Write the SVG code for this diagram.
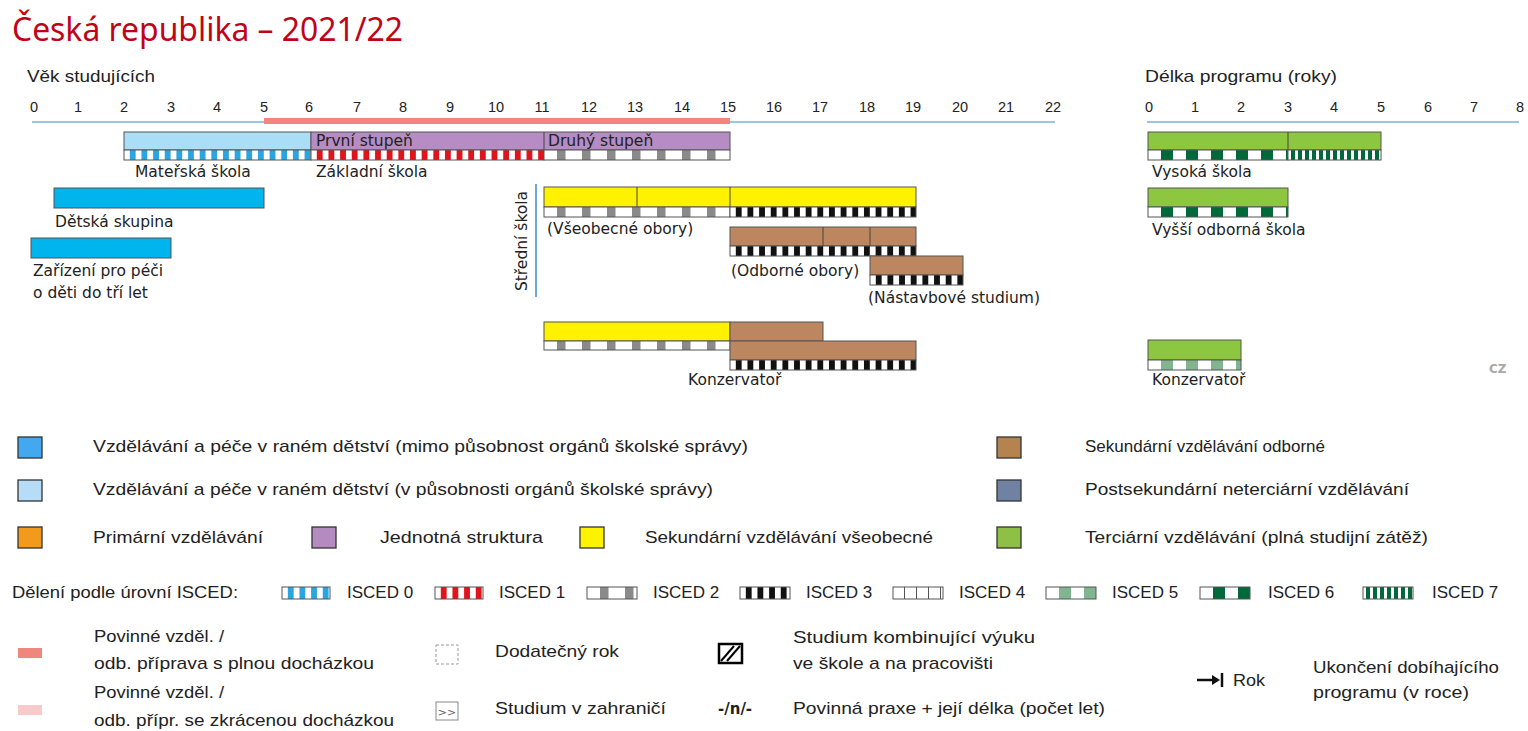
<svg xmlns="http://www.w3.org/2000/svg" width="1528" height="731" viewBox="0 0 1528 731">
<defs>
<pattern id="i0" patternUnits="userSpaceOnUse" width="11.65" height="20"><rect width="11.65" height="20" fill="#fff"/><rect x="5.8" width="5.85" height="20" fill="#2aa5df"/></pattern>
<pattern id="i1" patternUnits="userSpaceOnUse" width="11.65" height="20"><rect width="11.65" height="20" fill="#fff"/><rect x="5.8" width="5.85" height="20" fill="#e3131b"/></pattern>
<pattern id="i2" patternUnits="userSpaceOnUse" width="25" height="20"><rect width="25" height="20" fill="#fff"/><rect x="13" width="8.5" height="20" fill="#8a8a8a"/></pattern>
<pattern id="i3" patternUnits="userSpaceOnUse" width="11.65" height="20"><rect width="11.65" height="20" fill="#fff"/><rect x="5.8" width="5.85" height="20" fill="#111"/></pattern>
<pattern id="i4" patternUnits="userSpaceOnUse" width="12" height="20"><rect width="12" height="20" fill="#fff"/><rect x="11" width="1.2" height="20" fill="#555"/></pattern>
<pattern id="i5" patternUnits="userSpaceOnUse" width="25" height="20"><rect width="25" height="20" fill="#fff"/><rect x="13" width="12" height="20" fill="#80b58f"/></pattern>
<pattern id="i6" patternUnits="userSpaceOnUse" width="25" height="20"><rect width="25" height="20" fill="#fff"/><rect x="13" width="12" height="20" fill="#00693a"/></pattern>
<pattern id="i7" patternUnits="userSpaceOnUse" width="7" height="20"><rect width="7" height="20" fill="#fff"/><rect x="3" width="4" height="20" fill="#00693a"/></pattern>
</defs>
<style>
.lab{font-family:"DejaVu Sans",sans-serif;font-size:15.5px;fill:#222}
.tick{font-family:"Liberation Sans",sans-serif;font-size:14.5px;fill:#222;text-anchor:middle}
.leg{font-family:"Liberation Sans",sans-serif;font-size:17px;fill:#222}
.bx{stroke:#555;stroke-width:1}
.dv{stroke:#444;stroke-width:1}
.sq{stroke:#333;stroke-width:1.3}
.blue{fill:#abdef6}.purple{fill:#b58cc3}.yellow{fill:#fff200}.brown{fill:#bb8660}.green{fill:#8dc63f}.cyan{fill:#00b4ee}
</style>

<text x="12" y="41" font-family="Noto Sans, sans-serif" font-size="32" fill="#c00418" textLength="391" lengthAdjust="spacingAndGlyphs">Česká republika – 2021/22</text>

<g id="age-axis">
<text x="27" y="82" class="leg" font-size="18" textLength="128" lengthAdjust="spacingAndGlyphs">Věk studujících</text>
<line x1="32" y1="122" x2="1055" y2="122" stroke="#9cc3e8" stroke-width="2"/>
<rect x="264" y="118" width="466" height="6" fill="#f3847f"/>
<g class="tick">
<text x="34" y="112">0</text><text x="78" y="112">1</text><text x="124" y="112">2</text><text x="171" y="112">3</text><text x="217" y="112">4</text><text x="264" y="112">5</text><text x="309" y="112">6</text><text x="357" y="112">7</text><text x="403" y="112">8</text><text x="450" y="112">9</text><text x="496" y="112">10</text><text x="542" y="112">11</text><text x="589" y="112">12</text><text x="635" y="112">13</text><text x="682" y="112">14</text><text x="728" y="112">15</text><text x="774" y="112">16</text><text x="820" y="112">17</text><text x="867" y="112">18</text><text x="913" y="112">19</text><text x="960" y="112">20</text><text x="1006" y="112">21</text><text x="1053" y="112">22</text>
</g>
</g>

<g id="duration-axis">
<text x="1145" y="82" class="leg" font-size="18" textLength="192" lengthAdjust="spacingAndGlyphs">Délka programu (roky)</text>
<line x1="1147" y1="122" x2="1519" y2="122" stroke="#9cc3e8" stroke-width="2"/>
<g class="tick">
<text x="1149" y="112">0</text><text x="1195" y="112">1</text><text x="1241" y="112">2</text><text x="1288" y="112">3</text><text x="1334" y="112">4</text><text x="1381" y="112">5</text><text x="1428" y="112">6</text><text x="1474" y="112">7</text><text x="1520" y="112">8</text>
</g>
</g>

<g id="materska-skola">
<rect x="124" y="132" width="187" height="18" class="blue bx"/>
<g transform="translate(124,150)"><rect width="187" height="10" fill="url(#i0)" class="bx"/></g>
<text x="135" y="177" class="lab">Mateřská škola</text>
</g>

<g id="zakladni-skola">
<rect x="311" y="132" width="419" height="18" class="purple bx"/>
<line x1="544" y1="132" x2="544" y2="150" class="dv"/>
<g transform="translate(311,150)"><rect width="233" height="10" fill="url(#i1)" class="bx"/></g>
<g transform="translate(544,150)"><rect width="186" height="10" fill="url(#i2)" class="bx"/></g>
<text x="316" y="146" class="lab">První stupeň</text>
<text x="548" y="146" class="lab">Druhý stupeň</text>
<text x="316" y="177" class="lab">Základní škola</text>
</g>

<g id="detska-skupina">
<rect x="54" y="188" width="210" height="20" class="cyan bx"/>
<text x="55" y="227" class="lab">Dětská skupina</text>
</g>

<g id="zarizeni">
<rect x="31" y="238" width="140" height="20" class="cyan bx"/>
<text x="33" y="276" class="lab">Zařízení pro péči</text>
<text x="33" y="298" class="lab">o děti do tří let</text>
</g>

<g id="stredni-skola">
<line x1="536" y1="184" x2="536" y2="297" stroke="#6ea6de" stroke-width="2"/>
<text transform="translate(527,241) rotate(-90)" text-anchor="middle" class="lab">Střední škola</text>
</g>

<g id="vseobecne-obory">
<rect x="544" y="187" width="372" height="20" class="yellow bx"/>
<line x1="637" y1="187" x2="637" y2="207" class="dv"/>
<line x1="730" y1="187" x2="730" y2="207" class="dv"/>
<g transform="translate(544,207)"><rect width="186" height="10" fill="url(#i2)" class="bx"/></g>
<g transform="translate(730,207)"><rect width="186" height="10" fill="url(#i3)" class="bx"/></g>
<text x="547" y="234" class="lab">(Všeobecné obory)</text>
</g>

<g id="odborne-obory">
<rect x="730" y="227" width="186" height="19" class="brown bx"/>
<line x1="823" y1="227" x2="823" y2="246" class="dv"/>
<line x1="870" y1="227" x2="870" y2="246" class="dv"/>
<g transform="translate(730,246)"><rect width="186" height="10" fill="url(#i3)" class="bx"/></g>
<text x="731" y="276" class="lab">(Odborné obory)</text>
</g>

<g id="nastavbove-studium">
<rect x="870" y="256" width="93" height="19" class="brown bx"/>
<g transform="translate(870,275)"><rect width="93" height="10" fill="url(#i3)" class="bx"/></g>
<text x="868" y="303" class="lab">(Nástavbové studium)</text>
</g>

<g id="konzervator">
<rect x="544" y="322" width="186" height="19" class="yellow bx"/>
<g transform="translate(544,341)"><rect width="186" height="9" fill="url(#i2)" class="bx"/></g>
<rect x="730" y="322" width="93" height="19" class="brown bx"/>
<rect x="730" y="341" width="186" height="19" class="brown bx"/>
<g transform="translate(730,360)"><rect width="186" height="10" fill="url(#i3)" class="bx"/></g>
<text x="688" y="385" class="lab">Konzervatoř</text>
</g>

<g id="vysoka-skola">
<rect x="1148" y="132" width="233" height="18" class="green bx"/>
<line x1="1288" y1="132" x2="1288" y2="150" class="dv"/>
<g transform="translate(1148,150)"><rect width="140" height="10" fill="url(#i6)" class="bx"/></g>
<g transform="translate(1288,150)"><rect width="93" height="10" fill="url(#i7)" class="bx"/></g>
<text x="1152" y="177" class="lab">Vysoká škola</text>
</g>

<g id="vyssi-odborna-skola">
<rect x="1148" y="188" width="140" height="19" class="green bx"/>
<g transform="translate(1148,207)"><rect width="140" height="10" fill="url(#i6)" class="bx"/></g>
<text x="1152" y="235" class="lab">Vyšší odborná škola</text>
</g>

<g id="konzervator-terciarni">
<rect x="1148" y="340" width="93" height="20" class="green bx"/>
<g transform="translate(1148,360)"><rect width="93" height="10" fill="url(#i5)" class="bx"/></g>
<text x="1152" y="385" class="lab">Konzervatoř</text>
</g>

<text x="1489" y="373" font-family="DejaVu Sans, sans-serif" font-size="12" font-weight="bold" fill="#a8a8a8">CZ</text>

<g id="legend-colours">
<rect x="18" y="437" width="24" height="21" fill="#44a8f0" class="sq"/>
<text x="93" y="452" class="leg" textLength="655" lengthAdjust="spacingAndGlyphs">Vzdělávání a péče v raném dětství (mimo působnost orgánů školské správy)</text>
<rect x="18" y="480" width="24" height="21" fill="#b7dcf7" class="sq"/>
<text x="93" y="495" class="leg" textLength="620" lengthAdjust="spacingAndGlyphs">Vzdělávání a péče v raném dětství (v působnosti orgánů školské správy)</text>
<rect x="18" y="527" width="24" height="21" fill="#f29a1c" class="sq"/>
<text x="93" y="543" class="leg" textLength="170" lengthAdjust="spacingAndGlyphs">Primární vzdělávání</text>
<rect x="312" y="527" width="24" height="21" fill="#b48bc1" class="sq"/>
<text x="380" y="543" class="leg" textLength="163" lengthAdjust="spacingAndGlyphs">Jednotná struktura</text>
<rect x="580" y="527" width="24" height="21" fill="#fff200" class="sq"/>
<text x="645" y="543" class="leg" textLength="288" lengthAdjust="spacingAndGlyphs">Sekundární vzdělávání všeobecné</text>
<rect x="997" y="437" width="24" height="21" fill="#b5834f" class="sq"/>
<text x="1085" y="452" class="leg" textLength="240" lengthAdjust="spacingAndGlyphs">Sekundární vzdělávání odborné</text>
<rect x="997" y="480" width="24" height="21" fill="#6f82a3" class="sq"/>
<text x="1085" y="495" class="leg" textLength="324" lengthAdjust="spacingAndGlyphs">Postsekundární neterciární vzdělávání</text>
<rect x="997" y="527" width="24" height="21" fill="#8dc044" class="sq"/>
<text x="1085" y="543" class="leg" textLength="343" lengthAdjust="spacingAndGlyphs">Terciární vzdělávání (plná studijní zátěž)</text>
</g>

<g id="legend-isced">
<text x="12" y="598" class="leg" textLength="226" lengthAdjust="spacingAndGlyphs">Dělení podle úrovní ISCED:</text>
<g transform="translate(282,587)"><rect width="48" height="12" fill="url(#i0)" class="bx"/></g>
<text x="347" y="598" class="leg">ISCED 0</text>
<g transform="translate(435,587)"><rect width="48" height="12" fill="url(#i1)" class="bx"/></g>
<text x="499" y="598" class="leg">ISCED 1</text>
<g transform="translate(587,587)"><rect width="50" height="12" fill="url(#i2)" class="bx"/></g>
<text x="653" y="598" class="leg">ISCED 2</text>
<g transform="translate(740,587)"><rect width="50" height="12" fill="url(#i3)" class="bx"/></g>
<text x="806" y="598" class="leg">ISCED 3</text>
<g transform="translate(893,587)"><rect width="50" height="12" fill="url(#i4)" class="bx"/></g>
<text x="959" y="598" class="leg">ISCED 4</text>
<g transform="translate(1046,587)"><rect width="50" height="12" fill="url(#i5)" class="bx"/></g>
<text x="1112" y="598" class="leg">ISCED 5</text>
<g transform="translate(1200,587)"><rect width="50" height="12" fill="url(#i6)" class="bx"/></g>
<text x="1268" y="598" class="leg">ISCED 6</text>
<g transform="translate(1363,587)"><rect width="50" height="12" fill="url(#i7)" class="bx"/></g>
<text x="1432" y="598" class="leg">ISCED 7</text>
</g>

<g id="legend-other">
<rect x="18" y="648" width="24" height="10" fill="#f0877c"/>
<text x="94" y="642" class="leg" textLength="130" lengthAdjust="spacingAndGlyphs">Povinné vzděl. /</text>
<text x="94" y="669" class="leg" textLength="280" lengthAdjust="spacingAndGlyphs">odb. příprava s plnou docházkou</text>
<rect x="18" y="705" width="24" height="10" fill="#f8caca"/>
<text x="94" y="698" class="leg" textLength="130" lengthAdjust="spacingAndGlyphs">Povinné vzděl. /</text>
<text x="94" y="726" class="leg" textLength="300" lengthAdjust="spacingAndGlyphs">odb. přípr. se zkrácenou docházkou</text>
<rect x="436" y="645" width="22" height="19" fill="none" stroke="#999" stroke-width="1" stroke-dasharray="3,2"/>
<text x="495" y="657" class="leg" textLength="124" lengthAdjust="spacingAndGlyphs">Dodatečný rok</text>
<rect x="436" y="702" width="22" height="18" fill="#fff" stroke="#888" stroke-width="1"/>
<text x="447" y="716" font-family="DejaVu Sans, sans-serif" font-size="11" fill="#666" text-anchor="middle">&gt;&gt;</text>
<text x="495" y="714" class="leg" textLength="171" lengthAdjust="spacingAndGlyphs">Studium v zahraničí</text>
<rect x="719" y="644" width="23" height="19" fill="#fff" stroke="#000" stroke-width="2.5"/>
<line x1="721" y1="661" x2="734" y2="646" stroke="#000" stroke-width="2"/>
<line x1="727" y1="661" x2="740" y2="646" stroke="#000" stroke-width="2"/>
<text x="793" y="643" class="leg" textLength="242" lengthAdjust="spacingAndGlyphs">Studium kombinující výuku</text>
<text x="793" y="669" class="leg" textLength="200" lengthAdjust="spacingAndGlyphs">ve škole a na pracovišti</text>
<text x="718" y="714" font-family="DejaVu Sans, sans-serif" font-size="15" font-weight="bold" fill="#222">-/n/-</text>
<text x="793" y="714" class="leg" textLength="312" lengthAdjust="spacingAndGlyphs">Povinná praxe + její délka (počet let)</text>
<line x1="1197" y1="680" x2="1214" y2="680" stroke="#111" stroke-width="2.5"/>
<polygon points="1212,675 1220,680 1212,685" fill="#111"/>
<line x1="1222" y1="673" x2="1222" y2="687" stroke="#111" stroke-width="2.5"/>
<text x="1233" y="686" class="leg" textLength="32" lengthAdjust="spacingAndGlyphs">Rok</text>
<text x="1313" y="673" class="leg" textLength="186" lengthAdjust="spacingAndGlyphs">Ukončení dobíhajícího</text>
<text x="1313" y="698" class="leg" textLength="156" lengthAdjust="spacingAndGlyphs">programu (v roce)</text>
</g>
</svg>
